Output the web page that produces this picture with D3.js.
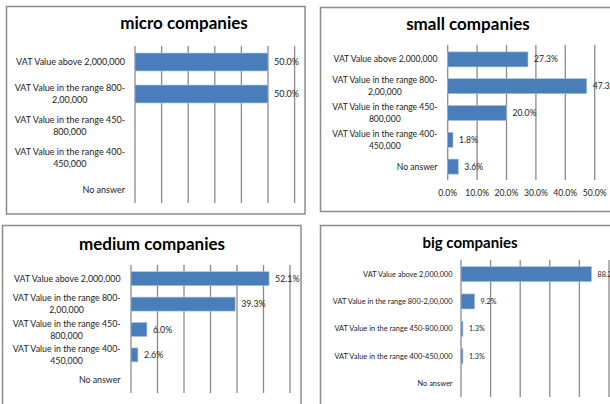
<!DOCTYPE html>
<html><head><meta charset="utf-8">
<script src="https://cdn.jsdelivr.net/npm/d3@7"></script>
<style>
body{margin:0;background:#fff;}
svg{display:block;font-family:Lato,"Open Sans",sans-serif;}
</style></head>
<body>
<svg id="chart" width="610" height="404"></svg>
<script>
// ---- data ----
const categories = [
  "VAT Value above 2,000,000",
  "VAT Value in the range 800-2,00,000",
  "VAT Value in the range 450-800,000",
  "VAT Value in the range 400-450,000",
  "No answer"
];
const wrappedLabels = [
  ["VAT Value above 2,000,000"],
  ["VAT Value in the range 800-", "2,00,000"],
  ["VAT Value in the range 450-", "800,000"],
  ["VAT Value in the range 400-", "450,000"],
  ["No answer"]
];
const titles = ["micro companies", "small companies", "medium companies", "big companies"];
const microValues  = [50.0, 50.0, null, null, null];
const smallValues  = [27.3, 47.3, 20.0, 1.8, 3.6];
const mediumValues = [52.1, 39.3, 6.0, 2.6, null];
const bigValues    = [88.2, 9.2, 1.3, 1.3, null];
const smallTickLabels = ["0.0%", "10.0%", "20.0%", "30.0%", "40.0%", "50.0%"];

// ---- layout ----
const panels = [
  {title: titles[0], values: microValues, wrap: true,
   frame: [6.5, 6.5, 305, 214], titleX: 184, titleY: 29, titleSize: 17,
   xDomain: [0, 60], xRange: [135, 294.6], gridStep: 10,
   yRange: [46, 206], gridY: [46, 203], pad: 0.44,
   labelRight: 125, labelSize: 9, valueSize: 9, ticks: false},
  {title: titles[1], values: smallValues, wrap: true,
   frame: [320.5, 7.5, 640, 211.5], titleX: 468, titleY: 30, titleSize: 17,
   xDomain: [0, 60], xRange: [447.7, 624.1], gridStep: 10,
   yRange: [46, 180], gridY: [45, 180], pad: 0.44,
   labelRight: 437.5, labelSize: 8.6, valueSize: 8.6, ticks: true, tickY: 196},
  {title: titles[2], values: mediumValues, wrap: true,
   frame: [2.5, 225.5, 301, 440], titleX: 152, titleY: 250, titleSize: 17,
   xDomain: [0, 60], xRange: [131, 290], gridStep: 10,
   yRange: [266, 393], gridY: [265, 393], pad: 0.45,
   labelRight: 120.5, labelSize: 8.8, valueSize: 8.8, ticks: false},
  {title: titles[3], values: bigValues, wrap: false,
   frame: [320.5, 225.5, 640, 440], titleX: 470, titleY: 248, titleSize: 15,
   xDomain: [0, 100], xRange: [461, 609], gridStep: 20,
   yRange: [260.5, 397], gridY: [260, 397], pad: 0.45,
   labelRight: 452.5, labelSize: 7.4, valueSize: 7.2, ticks: false}
];

const svg = d3.select("#chart");
const barColor = "#4a7ebb";
const gridColor = "#8a8a8a";
const textColor = "#222";

panels.forEach(p => {
  const g = svg.append("g");
  const [fx0, fy0, fx1, fy1] = p.frame;
  g.append("rect").attr("x", fx0).attr("y", fy0)
    .attr("width", fx1 - fx0).attr("height", fy1 - fy0)
    .attr("fill", "#fff").attr("stroke", "#8c8c8c").attr("stroke-width", 1.5);

  g.append("text").attr("x", p.titleX).attr("y", p.titleY)
    .attr("text-anchor", "middle").attr("font-weight", "bold")
    .attr("font-size", p.titleSize).attr("fill", "#000").text(p.title);

  const x = d3.scaleLinear().domain(p.xDomain).range(p.xRange);
  const y = d3.scaleBand().domain(categories).range(p.yRange)
    .paddingInner(p.pad).paddingOuter(p.pad / 2);

  const gridVals = d3.range(p.xDomain[0], p.xDomain[1] + 0.001, p.gridStep);
  g.selectAll(".grid").data(gridVals).join("line")
    .attr("x1", d => x(d)).attr("x2", d => x(d))
    .attr("y1", p.gridY[0]).attr("y2", p.gridY[1])
    .attr("stroke", gridColor).attr("stroke-width", 1.3);

  if (p.ticks) {
    g.selectAll(".tick").data(smallTickLabels).join("text")
      .attr("x", (d, i) => x(gridVals[i])).attr("y", p.tickY)
      .attr("text-anchor", "middle").attr("font-size", p.labelSize)
      .attr("fill", textColor).text(d => d);
  }

  const data = categories.map((c, i) => ({c, v: p.values[i], lines: p.wrap ? wrappedLabels[i] : [c]}));

  g.selectAll(".bar").data(data.filter(d => d.v != null)).join("rect")
    .attr("x", x(0)).attr("y", d => y(d.c))
    .attr("width", d => x(d.v) - x(0)).attr("height", y.bandwidth())
    .attr("fill", barColor).attr("stroke", "#a9c1e0").attr("stroke-width", 0.6);

  g.selectAll(".val").data(data.filter(d => d.v != null)).join("text")
    .attr("x", d => x(d.v) + 6).attr("y", d => y(d.c) + y.bandwidth() / 2)
    .attr("dy", "0.35em").attr("font-size", p.valueSize).attr("fill", textColor)
    .text(d => d.v.toFixed(1) + "%");

  // category labels
  data.forEach(d => {
    const cy = y(d.c) + y.bandwidth() / 2;
    if (d.lines.length === 1) {
      g.append("text").attr("x", p.labelRight).attr("y", cy).attr("dy", "0.35em")
        .attr("text-anchor", "end").attr("font-size", p.labelSize).attr("fill", textColor)
        .text(d.lines[0]);
    } else {
      const t = g.append("text").attr("font-size", p.labelSize).attr("fill", textColor)
        .attr("text-anchor", "middle");
      const spans = d.lines.map((ln, k) => t.append("tspan").attr("y", cy + (k - 0.5) * 12).attr("dy", "0.35em").text(ln));
      const w = d3.max(spans, s => s.node().getComputedTextLength());
      spans.forEach(s => s.attr("x", p.labelRight - w / 2));
    }
  });
});
</script>
</body></html>
